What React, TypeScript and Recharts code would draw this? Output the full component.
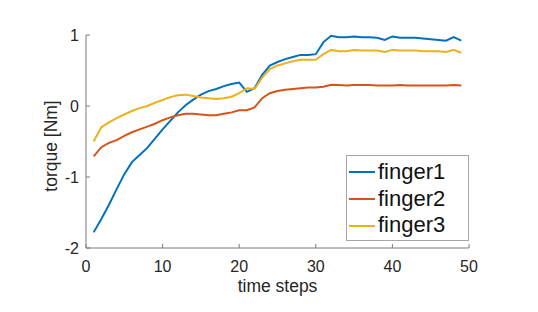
import * as React from "react";
import { Legend, Line, LineChart, XAxis, YAxis } from "recharts";

const steps = [
  1, 2, 3, 4, 5, 6, 7, 8, 9, 10, 11, 12, 13, 14, 15, 16, 17, 18, 19, 20, 21, 22, 23, 24, 25,
  26, 27, 28, 29, 30, 31, 32, 33, 34, 35, 36, 37, 38, 39, 40, 41, 42, 43, 44, 45, 46, 47, 48, 49,
];

const finger1 = [
  -1.78, -1.59, -1.39, -1.17, -0.96, -0.79, -0.69, -0.59, -0.46, -0.33, -0.21, -0.09, 0.01,
  0.09, 0.16, 0.21, 0.24, 0.28, 0.31, 0.33, 0.2, 0.25, 0.44, 0.57, 0.62, 0.66, 0.69, 0.72,
  0.72, 0.73, 0.9, 0.99, 0.97, 0.97, 0.98, 0.97, 0.97, 0.96, 0.93, 0.98, 0.96, 0.96, 0.96,
  0.95, 0.94, 0.93, 0.92, 0.97, 0.92,
];

const finger2 = [
  -0.71, -0.58, -0.52, -0.48, -0.42, -0.37, -0.33, -0.29, -0.25, -0.2, -0.16, -0.13, -0.11,
  -0.11, -0.12, -0.13, -0.13, -0.11, -0.09, -0.06, -0.06, -0.02, 0.11, 0.18, 0.21, 0.23, 0.24,
  0.25, 0.26, 0.26, 0.27, 0.3, 0.295, 0.29, 0.295, 0.295, 0.295, 0.29, 0.29, 0.29, 0.295, 0.29,
  0.29, 0.29, 0.29, 0.29, 0.29, 0.295, 0.29,
];

const finger3 = [
  -0.5, -0.3, -0.23, -0.17, -0.12, -0.07, -0.03, 0.0, 0.045, 0.085, 0.125, 0.15, 0.16, 0.14,
  0.12, 0.11, 0.1, 0.11, 0.13, 0.18, 0.25, 0.24, 0.4, 0.52, 0.57, 0.6, 0.63, 0.65, 0.65, 0.65,
  0.73, 0.79, 0.77, 0.77, 0.79, 0.78, 0.78, 0.78, 0.76, 0.79, 0.78, 0.78, 0.78, 0.77, 0.77,
  0.77, 0.76, 0.79, 0.75,
];

const xTicks = [0, 10, 20, 30, 40, 50];
const yTicks = [-2, -1, 0, 1];

const rows = steps.map((step, i) => ({
  step,
  finger1: finger1[i],
  finger2: finger2[i],
  finger3: finger3[i],
}));

const FONT = '"Liberation Sans", Arial, Helvetica, sans-serif';
const TEXT = "#262626";
const AXIS = "#7a7a7a";

// matlab style: ticks point into the plot
function XTick(props: any) {
  const { x, y, payload } = props;
  return (
    <g>
      <line x1={x} y1={y} x2={x} y2={y - 4} stroke={AXIS} strokeWidth={1} />
      <text x={x} y={y + 24} textAnchor="middle" fontSize={16} fontFamily={FONT} fill={TEXT}>
        {payload.value}
      </text>
    </g>
  );
}

function YTick(props: any) {
  const { x, y, payload } = props;
  return (
    <g>
      <line x1={x} y1={y} x2={x + 4} y2={y} stroke={AXIS} strokeWidth={1} />
      <text x={x - 7} y={y + 5.7} textAnchor="end" fontSize={16} fontFamily={FONT} fill={TEXT}>
        {payload.value}
      </text>
    </g>
  );
}

function LegendBox(props: any) {
  const items = props.payload || [];
  return (
    <div
      style={{
        boxSizing: "border-box",
        width: 123,
        height: 86,
        border: "1px solid #a6a6a6",
        background: "#fff",
        paddingTop: 3,
        fontFamily: FONT,
        fontSize: 22,
        color: "#111",
      }}
    >
      {items.map((it: any) => (
        <div key={it.value} style={{ display: "flex", alignItems: "center", height: 26.7 }}>
          <div style={{ width: 26, height: 2, marginLeft: 2, background: it.color }} />
          <span style={{ marginLeft: 3, lineHeight: "26.7px" }}>{it.value}</span>
        </div>
      ))}
    </div>
  );
}

export default function App() {
  return (
    <div style={{ width: 530, height: 304 }}>
      <LineChart
        width={530}
        height={304}
        data={rows}
        margin={{ top: 27, right: 69, bottom: 0, left: 0 }}
      >
        <XAxis
          dataKey="step"
          type="number"
          domain={[0, 50]}
          ticks={xTicks}
          interval={0}
          height={64}
          tickSize={0}
          tickMargin={0}
          tickLine={false}
          axisLine={{ stroke: AXIS, strokeWidth: 1 }}
          tick={(p: any) => <XTick {...p} />}
          label={{
            content: ({ viewBox }: any) => (
              <text
                x={viewBox.x + viewBox.width / 2}
                y={viewBox.y + 44}
                textAnchor="middle"
                fontSize={17.5}
                fontFamily={FONT}
                fill={TEXT}
              >
                time steps
              </text>
            ),
          }}
        />
        <YAxis
          type="number"
          domain={[-2, 1]}
          ticks={yTicks}
          interval={0}
          width={78}
          tickSize={0}
          tickMargin={0}
          tickLine={false}
          axisLine={{ stroke: AXIS, strokeWidth: 1 }}
          tick={(p: any) => <YTick {...p} />}
          label={{
            content: () => (
              <text
                x={49}
                y={138}
                transform="rotate(-90 49 138)"
                textAnchor="middle"
                fontSize={17.5}
                fontFamily={FONT}
                fill={TEXT}
              >
                torque [Nm]
              </text>
            ),
          }}
        />
        <Legend
          layout="vertical"
          verticalAlign="middle"
          align="center"
          content={<LegendBox />}
          wrapperStyle={{ left: 338, top: 147, width: 123 }}
        />
        <Line dataKey="finger1" name="finger1" type="linear" stroke="#0072BD" strokeWidth={2} dot={false} isAnimationActive={false} />
        <Line dataKey="finger2" name="finger2" type="linear" stroke="#D95319" strokeWidth={2} dot={false} isAnimationActive={false} />
        <Line dataKey="finger3" name="finger3" type="linear" stroke="#EDB120" strokeWidth={2} dot={false} isAnimationActive={false} />
      </LineChart>
    </div>
  );
}
